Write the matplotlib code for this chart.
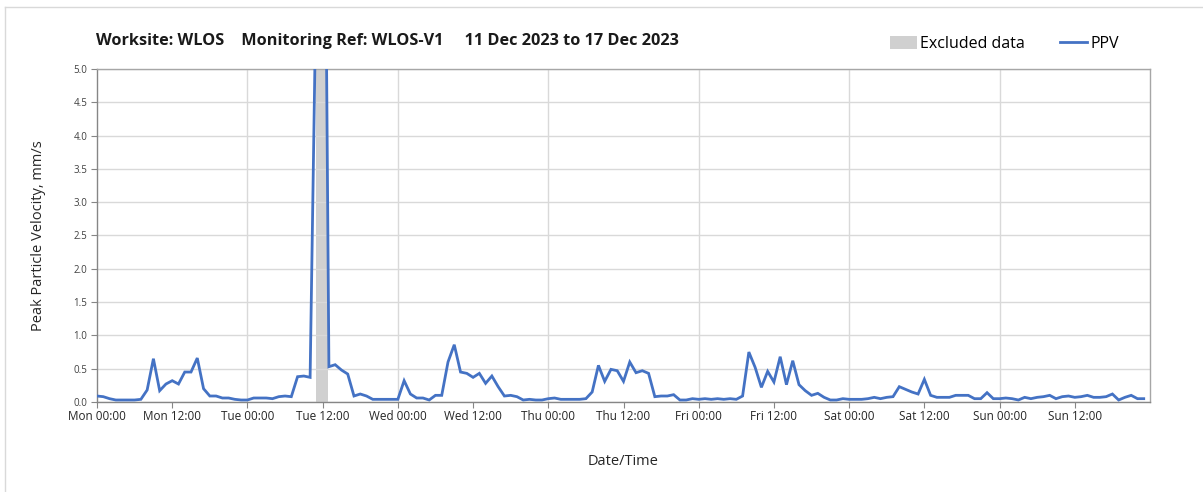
import matplotlib
matplotlib.use("Agg")
import matplotlib.pyplot as plt
import matplotlib.dates as mdates
from matplotlib.patches import Patch
from matplotlib.lines import Line2D
import numpy as np
import pandas as pd

# hourly peak particle velocity, mm/s, Mon 11 Dec 00:00 -> Sun 17 Dec 23:00
ppv = [
    0.09, 0.08, 0.05, 0.03, 0.03, 0.03, 0.03, 0.04, 0.18, 0.65, 0.17, 0.27,
    0.32, 0.27, 0.45, 0.45, 0.66, 0.20, 0.09, 0.09, 0.06, 0.06, 0.04, 0.03,
    0.03, 0.06, 0.06, 0.06, 0.05, 0.08, 0.09, 0.08, 0.38, 0.39, 0.37, 6.50,
    12.70, 0.53, 0.56, 0.48, 0.42, 0.09, 0.12, 0.09, 0.04, 0.04, 0.04, 0.04,
    0.04, 0.32, 0.12, 0.06, 0.06, 0.03, 0.10, 0.10, 0.60, 0.86, 0.45, 0.43,
    0.37, 0.43, 0.28, 0.39, 0.23, 0.09, 0.10, 0.08, 0.03, 0.04, 0.03, 0.03,
    0.05, 0.06, 0.04, 0.04, 0.04, 0.04, 0.05, 0.15, 0.55, 0.31, 0.49, 0.47,
    0.31, 0.60, 0.44, 0.47, 0.43, 0.08, 0.09, 0.09, 0.11, 0.03, 0.03, 0.05,
    0.04, 0.05, 0.04, 0.05, 0.04, 0.05, 0.04, 0.09, 0.75, 0.52, 0.22, 0.46,
    0.30, 0.68, 0.26, 0.62, 0.26, 0.17, 0.10, 0.13, 0.07, 0.03, 0.03, 0.05,
    0.04, 0.04, 0.04, 0.05, 0.07, 0.05, 0.07, 0.08, 0.23, 0.19, 0.15, 0.12,
    0.34, 0.10, 0.07, 0.07, 0.07, 0.10, 0.10, 0.10, 0.05, 0.05, 0.14, 0.05,
    0.05, 0.06, 0.05, 0.03, 0.07, 0.05, 0.07, 0.08, 0.10, 0.05, 0.08, 0.09,
    0.07, 0.08, 0.10, 0.07, 0.07, 0.08, 0.12, 0.03, 0.07, 0.10, 0.05, 0.05,
]
times = pd.date_range("2023-12-11 00:00", periods=len(ppv), freq="h")

# excluded period
excl_start = pd.Timestamp("2023-12-12 10:55")
excl_end = pd.Timestamp("2023-12-12 12:55")

title = "Worksite: WLOS    Monitoring Ref: WLOS-V1     11 Dec 2023 to 17 Dec 2023"

plt.rcParams['font.family'] = ['Open Sans', 'DejaVu Sans']

fig = plt.figure(figsize=(12.03, 4.92), dpi=100)
ax = fig.add_axes([97/1203, 1-402/492, (1150-97)/1203, (402-69)/492])

blue = "#4472c4"
ax.axvspan(excl_start, excl_end, color="#d0d0d0", zorder=1, lw=0)
ax.plot(times, ppv, color=blue, lw=2.0, zorder=3, solid_joinstyle="miter")

ax.set_ylim(0, 5)
ax.set_yticks(np.arange(0, 5.01, 0.5))
ax.yaxis.set_major_formatter(matplotlib.ticker.FormatStrFormatter("%.1f"))
start, end = pd.Timestamp("2023-12-11"), pd.Timestamp("2023-12-18")
ax.set_xlim(start, end)
ticks = pd.date_range(start, end, freq="12h")[:-1]
ax.set_xticks(ticks)
ax.xaxis.set_major_formatter(mdates.DateFormatter("%a %H:%M"))

# grid: horizontal every 0.5, vertical at midnight
ax.grid(axis="y", color="#d9d9d9", lw=1.0, zorder=0)
for d in pd.date_range("2023-12-12", periods=6, freq="D"):
    ax.axvline(d, color="#d9d9d9", lw=1.0, zorder=0)

for s in ax.spines.values():
    s.set_color("#a6a6a6")
    s.set_linewidth(1.0)
ax.spines["left"].set_color("#868686")
ax.spines["bottom"].set_color("#868686")

ax.tick_params(axis="y", labelsize=7, colors="#404040", length=4, width=0.8, pad=3)
ax.tick_params(axis="x", labelsize=8.5, colors="#262626", length=4, width=0.8, pad=2)
ax.tick_params(axis="both", color="#868686")

ax.set_ylabel("Peak Particle Velocity, mm/s", fontsize=10.5, color="#262626", labelpad=20)
ax.set_xlabel("Date/Time", fontsize=10.5, color="#262626", labelpad=22)

fig.text(96/1203, 1-41/492, title, fontsize=11.7, fontweight="bold", color="#1a1a1a",
         va="center", ha="left")

handles = [Patch(facecolor="#d0d0d0", edgecolor="none", label="Excluded data"),
           Line2D([0], [0], color=blue, lw=2.0, label="PPV")]
leg = fig.legend(handles=handles, loc="center right", bbox_to_anchor=(1119/1203, 1-44/492),
                 ncol=2, frameon=False, fontsize=11.5, handlelength=1.7, handletextpad=0.2,
                 columnspacing=2.2, handleheight=0.8, borderaxespad=0, borderpad=0)

# outer frame of the chart area
fig.add_artist(Line2D([5/1203, 5/1203], [0, 1-7/492], transform=fig.transFigure,
                      color="#d9d9d9", lw=1.0))
fig.add_artist(Line2D([5/1203, 1], [1-7/492, 1-7/492], transform=fig.transFigure,
                      color="#d9d9d9", lw=1.0))

fig.savefig("out.png", dpi=100)
